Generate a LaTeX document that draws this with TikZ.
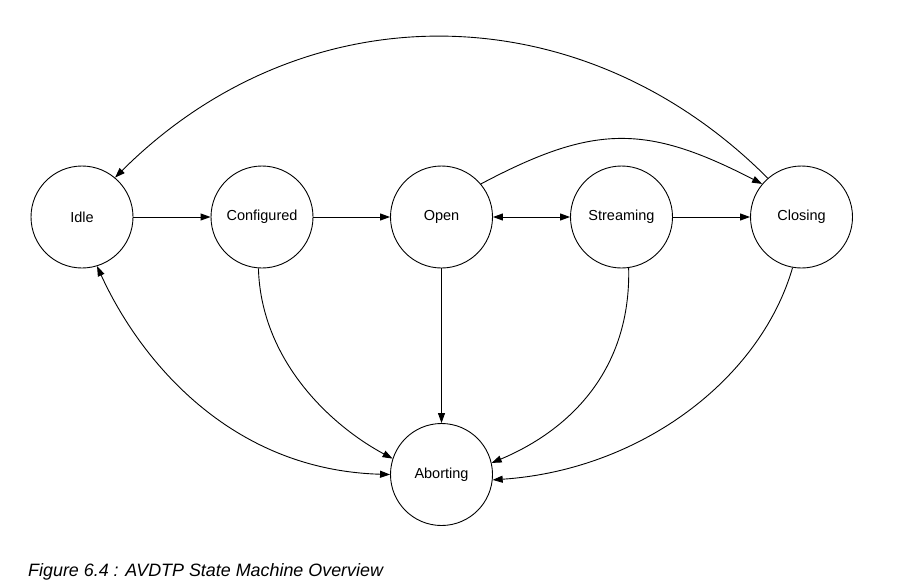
\documentclass[tikz,border=0pt]{standalone}
\usepackage{fontspec}
\setmainfont{Liberation Sans}
\usetikzlibrary{arrows.meta}
\begin{document}
\begin{tikzpicture}[x=1pt,y=-1pt,
  state/.style={circle,draw,line width=0.9pt,minimum size=102pt,inner sep=0pt,font=\fontsize{14.5}{17}\selectfont},
  edge/.style={line width=0.9pt,-{Triangle[length=10pt,width=7pt]}},
  both/.style={line width=0.9pt,{Triangle[length=10pt,width=7pt]}-{Triangle[length=10pt,width=7pt]}}]
\useasboundingbox (0,0) rectangle (909,586);
\node[state] (idle) at (82,217) {Idle};
\node[state] (conf) at (262,217) {Configured};
\node[state] (open) at (441.5,217) {Open};
\node[state] (str) at (621.5,217) {Streaming};
\node[state] (close) at (801.5,217) {Closing};
\node[state] (abort) at (441.5,474.5) {Aborting};
\node[anchor=west,inner sep=0pt,font=\fontsize{17.9}{20}\selectfont\itshape] (cap) at (28,572) {Figure 6.4 : AVDTP State Machine Overview};
\draw[edge] (idle) -- (conf);
\draw[edge] (conf) -- (open);
\draw[both] (open) -- (str);
\draw[edge] (str) -- (close);
\draw[edge] (open) -- (abort);
\draw[edge] (open.40) .. controls (594,124) and (646,124) .. (close.140);
\draw[edge] (close.131) .. controls (580,-10) and (303,-10) .. (idle.50);
\draw[edge] (conf.266) .. controls (261,360) and (330,425) .. (abort.162);
\draw[both] (idle.287) .. controls (140,360) and (230,470) .. (abort.180);
\draw[edge] (str.278) .. controls (631,370) and (570,430) .. (abort.13);
\draw[edge] (close.260) .. controls (760,380) and (640,470) .. (abort.-6);
\end{tikzpicture}
\end{document}
